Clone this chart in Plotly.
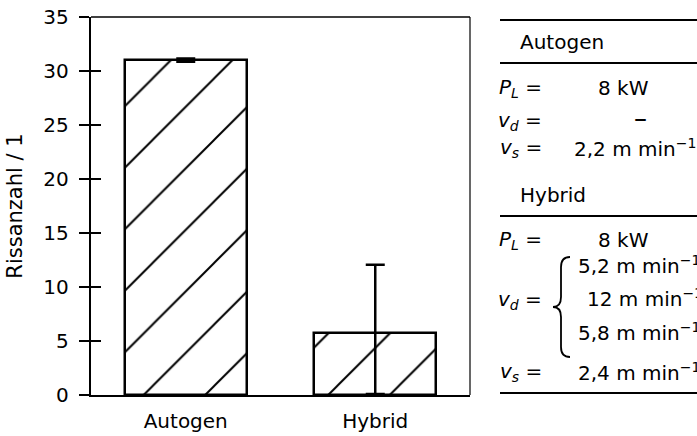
import plotly.graph_objects as go

# Crack counts per welding process
categories = ["Autogen", "Hybrid"]
crack_counts = [31.0, 5.75]
err_plus = [0.15, 6.3]
err_minus = [0.15, 5.65]

y_ticks = [0, 5, 10, 15, 20, 25, 30, 35]
# trailing no-break space keeps the labels clear of the crossing ticks
y_ticktext = [f"{v}\u00a0" for v in y_ticks]

FONT = "DejaVu Sans"
W, H = 697, 436
ML, MR, MT, MB = 91, 227, 17, 41
PW, PH = W - ML - MR, H - MT - MB


def px(x):
    """Horizontal pixel position -> paper coordinate."""
    return (x - ML) / PW


def py(y):
    """Vertical pixel position -> paper coordinate."""
    return (H - MB - y) / PH


fig = go.Figure()

fig.add_trace(go.Bar(
    x=categories,
    y=crack_counts,
    width=0.645,
    marker=dict(
        color="white",
        line=dict(color="black", width=2.5),
        pattern=dict(shape="/", size=43.5, solidity=0.046,
                     fgcolor="black", bgcolor="white", fillmode="replace"),
    ),
    error_y=dict(type="data", symmetric=False, array=err_plus,
                 arrayminus=err_minus, color="black", thickness=2.5, width=9.5),
    showlegend=False,
    hoverinfo="skip",
))

# Invisible companion trace so the inner-tick axis is drawn
fig.add_trace(go.Scatter(
    x=categories, y=crack_counts, yaxis="y2", mode="markers",
    marker=dict(opacity=0), showlegend=False, hoverinfo="skip",
))

fig.update_layout(
    width=W, height=H,
    margin=dict(l=ML, r=MR, t=MT, b=MB, autoexpand=False),
    paper_bgcolor="white",
    plot_bgcolor="white",
    font=dict(family=FONT, size=20, color="black"),
    bargap=0.0,
    xaxis=dict(
        type="category",
        range=[-0.5, 1.5],
        automargin=False,
        showline=True, linecolor="black", linewidth=2,
        ticks="", showgrid=False, zeroline=False,
        ticklabelstandoff=7,
        tickfont=dict(family=FONT, size=20, color="black"),
    ),
    yaxis=dict(
        range=[0, 35],
        automargin=False,
        tickvals=y_ticks,
        ticktext=y_ticktext,
        ticks="outside", ticklen=10, tickwidth=1.5, tickcolor="black",
        showline=True, linecolor="black", linewidth=2,
        showgrid=False, zeroline=False,
        tickfont=dict(family=FONT, size=20, color="black"),
        title=dict(text="Rissanzahl / 1",
                   font=dict(family=FONT, size=21, color="black")),
    ),
    yaxis2=dict(
        range=[0, 35],
        automargin=False,
        tickvals=y_ticks,
        overlaying="y", side="left",
        ticks="inside", ticklen=10, tickwidth=1.5, tickcolor="black",
        showticklabels=False, showline=False, showgrid=False, zeroline=False,
    ),
)

shapes = []
# Top and right frame of the plot area
shapes.append(dict(type="line", xref="paper", yref="paper", x0=0, x1=1, y0=1, y1=1,
                   line=dict(color="black", width=1.3)))
shapes.append(dict(type="line", xref="paper", yref="paper", x0=1, x1=1, y0=0, y1=1,
                   line=dict(color="black", width=1.2)))

# Rules of the parameter table
for yy in [20, 63, 216, 393]:
    shapes.append(dict(type="line", xref="paper", yref="paper",
                       x0=px(500), x1=px(700), y0=py(yy), y1=py(yy),
                       line=dict(color="black", width=2)))

# Curly brace grouping the three v_d values
bx_tip, bx_mid, bx_end = 553, 561, 570
by_top, by_mid, by_bot = 257, 307, 357
brace = (
    f"M {px(bx_end)},{py(by_top)} "
    f"Q {px(bx_mid)},{py(by_top)} {px(bx_mid)},{py(by_top + 10)} "
    f"L {px(bx_mid)},{py(by_mid - 10)} "
    f"Q {px(bx_mid)},{py(by_mid)} {px(bx_tip)},{py(by_mid)} "
    f"Q {px(bx_mid)},{py(by_mid)} {px(bx_mid)},{py(by_mid + 10)} "
    f"L {px(bx_mid)},{py(by_bot - 10)} "
    f"Q {px(bx_mid)},{py(by_bot)} {px(bx_end)},{py(by_bot)}"
)
shapes.append(dict(type="path", xref="paper", yref="paper", path=brace,
                   line=dict(color="black", width=1.8)))

fig.update_layout(shapes=shapes)

unit = "m min<sup>−1</sup>"
table_texts = [
    # (text, x, y, anchor, size)
    ("Autogen", 518, 42, "left", 20),
    ("<i>P</i><sub><i>L</i></sub> =", 544, 88, "right", 20),
    ("8 kW", 596, 88, "left", 20),
    ("<i>v</i><sub><i>d</i></sub> =", 544, 121, "right", 20),
    ("–", 632, 118, "left", 26),
    ("<i>v</i><sub><i>s</i></sub> =", 544, 148, "right", 20),
    ("2,2 " + unit, 572, 148, "left", 20),
    ("Hybrid", 518, 195, "left", 20),
    ("<i>P</i><sub><i>L</i></sub> =", 544, 240, "right", 20),
    ("8 kW", 596, 240, "left", 20),
    ("5,2 " + unit, 576, 265, "left", 20),
    ("<i>v</i><sub><i>d</i></sub> =", 544, 300, "right", 20),
    ("12 " + unit, 585, 298, "left", 20),
    ("5,8 " + unit, 576, 332, "left", 20),
    ("<i>v</i><sub><i>s</i></sub> =", 544, 372, "right", 20),
    ("2,4 " + unit, 576, 372, "left", 20),
]

for text, x, y, anchor, size in table_texts:
    fig.add_annotation(
        text=text, xref="paper", yref="paper", x=px(x), y=py(y),
        xanchor=anchor, yanchor="middle", showarrow=False,
        font=dict(family=FONT, size=size, color="black"),
    )

fig.write_html("out.html")
